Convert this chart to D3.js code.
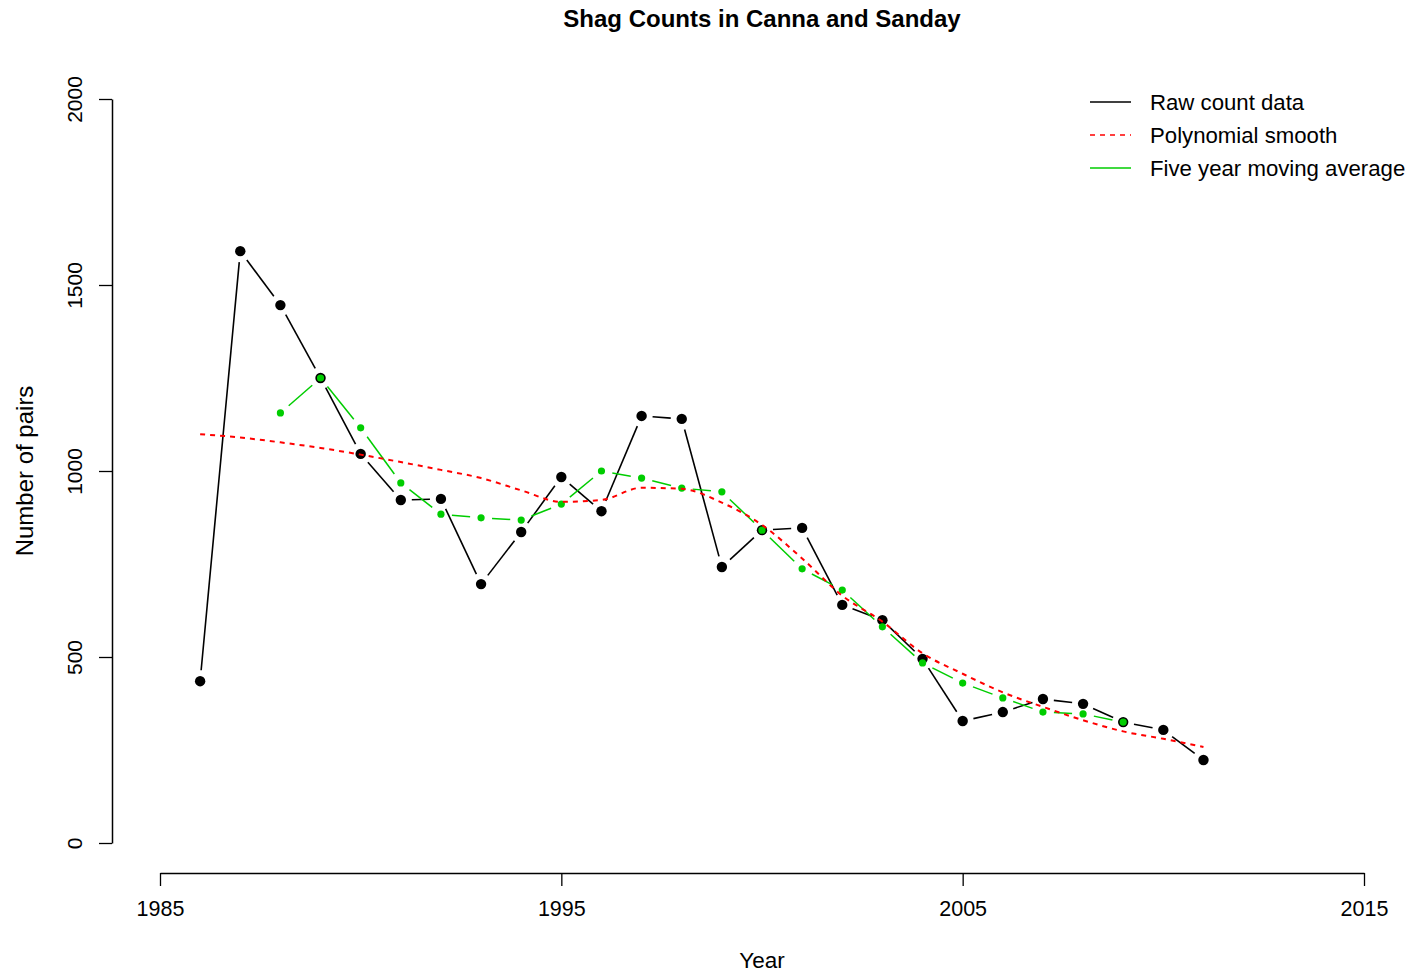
<!DOCTYPE html>
<html>
<head>
<meta charset="utf-8">
<script src="https://cdn.jsdelivr.net/npm/d3@7"></script>
<style>
  html, body { margin: 0; padding: 0; background: #fff; }
  text { font-family: "Liberation Sans", Arial, sans-serif; fill: #000; }
</style>
</head>
<body>
<svg id="chart" width="1413" height="976"></svg>
<script>
// ---- data ----
const rawYears = [1986,1987,1988,1989,1990,1991,1992,1993,1994,1995,1996,1997,1998,1999,2000,2001,2002,2003,2004,2005,2006,2007,2008,2009,2010,2011];
const rawCounts = [435,1591,1446,1250,1046,922,925,696,836,984,892,1148,1140,742,841,847,640,599,495,328,352,387,374,325,304,223];

const maYears = [1988,1989,1990,1991,1992,1993,1994,1995,1996,1997,1998,1999,2000,2001,2002,2003,2004,2005,2006,2007,2008,2009];
const maValues = [1156,1250,1116,968,884,874,868,911,1000,981,954,944,841,737,680,581,484,430,390,352,347,325];

const smoothYears = rawYears;
const smoothValues = [1099,1090,1077,1062,1044,1024,1003,981,948,917,922,955,952,915,855,765,665,595,510,455,405,366,330,300,280,258];

const xTicks = [1985,1995,2005,2015];
const yTicks = [0,500,1000,1500,2000];

const titleText = "Shag Counts in Canna and Sanday";
const xLabel = "Year";
const yLabel = "Number of pairs";
const legendLabels = ["Raw count data","Polynomial smooth","Five year moving average"];

// ---- layout ----
const svg = d3.select("#chart");
const x = d3.scaleLinear().domain([1985, 2015]).range([160, 1364]);
const y = d3.scaleLinear().domain([0, 2000]).range([843, 99]);

const BLACK = "#000";
const RED = "#ff0000";
const GREEN = "#00cd00";

// axes
const xAxisG = svg.append("g").attr("transform", "translate(0,873)")
  .call(d3.axisBottom(x).tickValues(xTicks).tickFormat(d3.format("d")).tickSize(13).tickSizeOuter(0));
xAxisG.select(".domain").attr("stroke", "#000").attr("stroke-width", 1.5);
xAxisG.selectAll(".tick line").attr("stroke", "#000").attr("stroke-width", 1.3);
xAxisG.selectAll(".tick text").attr("font-size", "21.5px").attr("y", 28).attr("dy", "0.71em")
  .style("font-family", "'Liberation Sans', Arial, sans-serif");

const yAxisG = svg.append("g").attr("transform", "translate(112,0)")
  .call(d3.axisLeft(y).tickValues(yTicks).tickFormat(d3.format("d")).tickSize(13).tickSizeOuter(0));
yAxisG.select(".domain").attr("stroke", "#000").attr("stroke-width", 1.5);
yAxisG.selectAll(".tick line").attr("stroke", "#000").attr("stroke-width", 1.3);
yAxisG.selectAll(".tick text").remove();
yAxisG.selectAll(".tick").append("text")
  .attr("transform", "translate(-30,0) rotate(-90)")
  .attr("text-anchor", "middle")
  .attr("font-size", "21px")
  .text(d => d);

// type "b" line: segments with gaps around points
function gappedSegments(xs, ys, gap) {
  const segs = [];
  for (let i = 0; i < xs.length - 1; i++) {
    const x1 = x(xs[i]), y1 = y(ys[i]), x2 = x(xs[i+1]), y2 = y(ys[i+1]);
    const dx = x2 - x1, dy = y2 - y1, len = Math.hypot(dx, dy);
    if (len > 2 * gap) {
      const ux = dx / len, uy = dy / len;
      segs.push([x1 + ux * gap, y1 + uy * gap, x2 - ux * gap, y2 - uy * gap]);
    }
  }
  return segs;
}

// raw data
svg.append("g").selectAll("line").data(gappedSegments(rawYears, rawCounts, 11)).join("line")
  .attr("x1", d => d[0]).attr("y1", d => d[1]).attr("x2", d => d[2]).attr("y2", d => d[3])
  .attr("stroke", BLACK).attr("stroke-width", 1.6);
svg.append("g").selectAll("circle").data(rawYears.map((yr, i) => [yr, rawCounts[i]])).join("circle")
  .attr("cx", d => x(d[0])).attr("cy", d => y(d[1])).attr("r", 5.2).attr("fill", BLACK);

// moving average
svg.append("g").selectAll("line").data(gappedSegments(maYears, maValues, 11)).join("line")
  .attr("x1", d => d[0]).attr("y1", d => d[1]).attr("x2", d => d[2]).attr("y2", d => d[3])
  .attr("stroke", GREEN).attr("stroke-width", 1.5);
svg.append("g").selectAll("circle").data(maYears.map((yr, i) => [yr, maValues[i]])).join("circle")
  .attr("cx", d => x(d[0])).attr("cy", d => y(d[1])).attr("r", 3.6).attr("fill", GREEN);

// polynomial smooth
const smoothLine = d3.line().x(d => x(d[0])).y(d => y(d[1])).curve(d3.curveMonotoneX);
svg.append("path").datum(smoothYears.map((yr, i) => [yr, smoothValues[i]]))
  .attr("d", smoothLine).attr("fill", "none").attr("stroke", RED)
  .attr("stroke-width", 2).attr("stroke-dasharray", "5,5");

// title and axis labels
svg.append("text").attr("x", 762).attr("y", 27).attr("text-anchor", "middle")
  .attr("font-size", "24px").attr("font-weight", "bold").text(titleText);
svg.append("text").attr("x", 762).attr("y", 968).attr("text-anchor", "middle")
  .attr("font-size", "22.5px").text(xLabel);
svg.append("text").attr("transform", "translate(33,471) rotate(-90)").attr("text-anchor", "middle")
  .attr("font-size", "24px").text(yLabel);

// legend
const legendStyles = [
  { color: BLACK, dash: null },
  { color: RED, dash: "5,5" },
  { color: GREEN, dash: null }
];
const legend = svg.append("g");
legendLabels.forEach((lab, i) => {
  const ly = 102 + i * 33;
  legend.append("line").attr("x1", 1090).attr("x2", 1131).attr("y1", ly).attr("y2", ly)
    .attr("stroke", legendStyles[i].color).attr("stroke-width", 1.6)
    .attr("stroke-dasharray", legendStyles[i].dash);
  legend.append("text").attr("x", 1150).attr("y", ly).attr("dy", "0.36em")
    .attr("font-size", "22.2px").text(lab);
});
</script>
</body>
</html>
